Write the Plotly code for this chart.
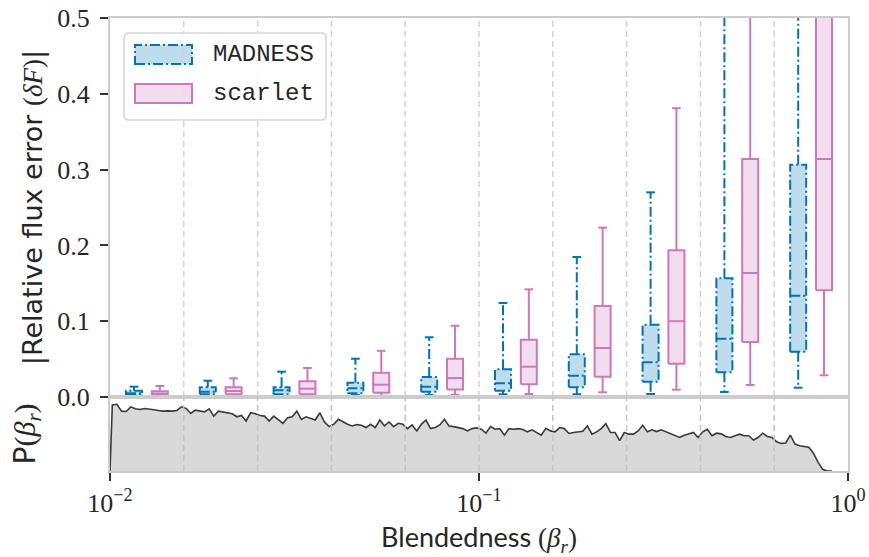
import numpy as np
import plotly.graph_objects as go

# ---------------------------------------------------------------------------
# Data
# ---------------------------------------------------------------------------
# Blendedness bins, evenly spaced in log10(beta_r)
bin_edges_log = np.linspace(-2.0, 0.0, 11)
bin_centers_log = 0.5 * (bin_edges_log[:-1] + bin_edges_log[1:])

# |relative flux error| box statistics per blendedness bin
madness_low = [0.0005, 0.0007, 0.0010, 0.0026, 0.0026, 0.0036, 0.0036, 0.0040, 0.0066, 0.0123]
madness_q1 = [0.0026, 0.0036, 0.0036, 0.0048, 0.0070, 0.0083, 0.0128, 0.0202, 0.0326, 0.0598]
madness_med = [0.0050, 0.0070, 0.0088, 0.0115, 0.0136, 0.0180, 0.0280, 0.0458, 0.0770, 0.1337]
madness_q3 = [0.0083, 0.0128, 0.0128, 0.0189, 0.0264, 0.0365, 0.0563, 0.0954, 0.1566, 0.3065]
madness_high = [0.0136, 0.0215, 0.0334, 0.0505, 0.0788, 0.1240, 0.1847, 0.2700, 0.6200, 0.9500]

scarlet_low = [0.0004, 0.0005, 0.0010, 0.0015, 0.0030, 0.0040, 0.0062, 0.0096, 0.0158, 0.0286]
scarlet_q1 = [0.0026, 0.0036, 0.0036, 0.0057, 0.0100, 0.0168, 0.0268, 0.0440, 0.0726, 0.1407]
scarlet_med = [0.0045, 0.0079, 0.0110, 0.0162, 0.0250, 0.0400, 0.0646, 0.1000, 0.1636, 0.3140]
scarlet_q3 = [0.0075, 0.0128, 0.0207, 0.0320, 0.0505, 0.0756, 0.1200, 0.1935, 0.3140, 0.6200]
scarlet_high = [0.0145, 0.0246, 0.0383, 0.0610, 0.0940, 0.1420, 0.2234, 0.3810, 0.7000, 1.1000]

# Distribution of blendedness, P(beta_r), in fine log bins of width 0.0125 dex
p_beta = [
    0.893, 0.902, 0.809, 0.804, 0.867, 0.840, 0.831, 0.844, 0.840, 0.827,
    0.818, 0.809, 0.813, 0.809, 0.818, 0.867, 0.844, 0.778, 0.822, 0.809,
    0.800, 0.840, 0.742, 0.809, 0.796, 0.778, 0.773, 0.733, 0.751, 0.676,
    0.787, 0.773, 0.751, 0.742, 0.676, 0.742, 0.698, 0.644, 0.720, 0.733,
    0.809, 0.698, 0.733, 0.707, 0.689, 0.787, 0.662, 0.600, 0.631, 0.698,
    0.662, 0.631, 0.609, 0.627, 0.618, 0.587, 0.631, 0.587, 0.689, 0.609,
    0.662, 0.600, 0.644, 0.631, 0.573, 0.622, 0.542, 0.631, 0.689, 0.573,
    0.587, 0.622, 0.698, 0.609, 0.600, 0.582, 0.573, 0.542, 0.573, 0.582,
    0.564, 0.511, 0.600, 0.564, 0.573, 0.484, 0.573, 0.564, 0.573, 0.560,
    0.529, 0.556, 0.520, 0.484, 0.578, 0.542, 0.529, 0.587, 0.573, 0.507,
    0.520, 0.529, 0.538, 0.609, 0.498, 0.529, 0.573, 0.640, 0.520, 0.520,
    0.409, 0.520, 0.498, 0.498, 0.542, 0.618, 0.529, 0.556, 0.533, 0.556,
    0.529, 0.511, 0.476, 0.453, 0.484, 0.502, 0.520, 0.453, 0.529, 0.564,
    0.476, 0.511, 0.502, 0.467, 0.453, 0.476, 0.498, 0.476, 0.476, 0.418,
    0.453, 0.511, 0.467, 0.453, 0.396, 0.373, 0.378, 0.484, 0.364, 0.342,
    0.333, 0.320, 0.240, 0.120, 0.022, 0.000, 0.000,
]
p_bin_width = 0.0125
p_log_centers = -2.0 + p_bin_width * (np.arange(len(p_beta)) + 0.5)

x_tick_vals = [1e-2, 1e-1, 1e0]
x_tick_text = ["10<sup>\u22122</sup>", "10<sup>\u22121</sup>", "10<sup>0</sup>"]
y_tick_vals = [0.0, 0.1, 0.2, 0.3, 0.4, 0.5]
y_tick_text = ["0.0", "0.1", "0.2", "0.3", "0.4", "0.5"]

# ---------------------------------------------------------------------------
# Styling
# ---------------------------------------------------------------------------
BLUE = "#0173B2"
PINK = "#CC78BC"
BLUE_FILL = "rgba(1,115,178,0.25)"
PINK_FILL = "rgba(204,120,188,0.25)"
SPINE = "#cccccc"
GRID = "#d2d2d2"
TEXT = "#262626"
DASHDOT = "10px,3px,2px,3px"
SERIF = "Liberation Serif"
SANS = "Lato"
WIDE_SANS = "DejaVu Sans"
MONO = "Liberation Mono"

W, H = 869, 557
ML, MR, MT, MB = 110, 21, 18, 86
plot_w = W - ML - MR
plot_h = H - MT - MB
bottom_frac = 74 / plot_h

offset_dex = 0.035     # shift of each box from the bin centre
half_box_dex = 0.0217  # half width of a box
half_cap_dex = 0.0118  # half width of a whisker cap


def box_geometry(centers, low, q1, med, q3, high):
    """Outline and whisker paths for a set of boxes on a log x axis."""
    bx, by, wx, wy = [], [], [], []
    for c, lo, a, m, b, hi in zip(centers, low, q1, med, q3, high):
        xl, xr = 10 ** (c - half_box_dex), 10 ** (c + half_box_dex)
        xc = 10 ** c
        cl, cr = 10 ** (c - half_cap_dex), 10 ** (c + half_cap_dex)
        bx += [xl, xr, xr, xl, xl, None]
        by += [a, a, b, b, a, None]
        wx += [xl, xr, None, xc, xc, None, xc, xc, None, cl, cr, None, cl, cr, None]
        wy += [m, m, None, b, hi, None, a, lo, None, hi, hi, None, lo, lo, None]
    return bx, by, wx, wy


fig = go.Figure()

series = [
    ("MADNESS", bin_centers_log - offset_dex, madness_low, madness_q1, madness_med,
     madness_q3, madness_high, BLUE, BLUE_FILL, DASHDOT),
    ("scarlet", bin_centers_log + offset_dex, scarlet_low, scarlet_q1, scarlet_med,
     scarlet_q3, scarlet_high, PINK, PINK_FILL, "solid"),
]
for name, centers, lo, q1, med, q3, hi, col, fill, dash in series:
    bx, by, wx, wy = box_geometry(centers, lo, q1, med, q3, hi)
    fig.add_trace(go.Scatter(
        x=bx, y=by, mode="lines", fill="toself", fillcolor=fill,
        line=dict(color=col, width=2, dash=dash), name=name,
        showlegend=False, hoverinfo="skip", xaxis="x", yaxis="y",
    ))
    fig.add_trace(go.Scatter(
        x=wx, y=wy, mode="lines", line=dict(color=col, width=2, dash=dash),
        showlegend=False, hoverinfo="skip", xaxis="x", yaxis="y",
    ))

# Blendedness distribution in the lower panel
fig.add_trace(go.Scatter(
    x=[10 ** -2.0] + list(10 ** p_log_centers), y=[0.0] + p_beta,
    mode="lines", fill="tozeroy", fillcolor="#d9d9d9",
    line=dict(color="#3a3a3a", width=1.6), showlegend=False,
    hoverinfo="skip", xaxis="x2", yaxis="y2",
))

# Dashed bin boundaries in both panels
shapes = []
for e in bin_edges_log[1:-1]:
    shapes.append(dict(type="line", xref="x", yref="y domain", x0=10 ** e, x1=10 ** e,
                       y0=0, y1=1, layer="below",
                       line=dict(color=GRID, width=1.5, dash="6px,4px")))
    shapes.append(dict(type="line", xref="x2", yref="y2 domain", x0=10 ** e, x1=10 ** e,
                       y0=0, y1=1, layer="above",
                       line=dict(color="#c4c4c4", width=1.5, dash="6px,4px")))


# Legend drawn in paper coordinates (pixel layout converted to paper units)
def px_x(p):
    return (p - ML) / plot_w


def px_y(p):
    return (H - MB - p) / plot_h


def rounded_rect(x0p, y0p, x1p, y1p, r=5):
    x0, x1 = px_x(x0p), px_x(x1p)
    yt, yb = px_y(y0p), px_y(y1p)
    rx, ry = r / plot_w, r / plot_h
    return (f"M{x0 + rx},{yb} L{x1 - rx},{yb} Q{x1},{yb} {x1},{yb + ry} "
            f"L{x1},{yt - ry} Q{x1},{yt} {x1 - rx},{yt} L{x0 + rx},{yt} "
            f"Q{x0},{yt} {x0},{yt - ry} L{x0},{yb + ry} Q{x0},{yb} {x0 + rx},{yb} Z")


shapes.append(dict(type="path", xref="paper", yref="paper", path=rounded_rect(124, 33, 326, 120),
                   fillcolor="rgba(255,255,255,0.85)", line=dict(color="#d6d6d6", width=1.5),
                   layer="above"))
annotations = []
legend_rows = [("MADNESS", 45, BLUE, BLUE_FILL, DASHDOT), ("scarlet", 84, PINK, PINK_FILL, "solid")]
for label, top, col, fill, dash in legend_rows:
    shapes.append(dict(type="rect", xref="paper", yref="paper",
                       x0=px_x(135), x1=px_x(192), y0=px_y(top + 19), y1=px_y(top),
                       fillcolor=fill, line=dict(color=col, width=2, dash=dash), layer="above"))
    annotations.append(dict(text=label, xref="paper", yref="paper", x=px_x(211),
                            y=px_y(top + 9.5), xanchor="left", yanchor="middle",
                            showarrow=False, font=dict(family=MONO, size=24, color=TEXT)))

axis_common = dict(showline=True, mirror=True, linecolor=SPINE, linewidth=2,
                   showgrid=False, zeroline=False, automargin=False)

fig.update_layout(
    width=W, height=H,
    margin=dict(l=ML, r=MR, t=MT, b=MB, autoexpand=False),
    paper_bgcolor="white", plot_bgcolor="white",
    showlegend=False,
    shapes=shapes, annotations=annotations,
    xaxis=dict(type="log", range=[-2, 0], domain=[0, 1], anchor="y",
               showticklabels=False, ticks="", **axis_common),
    yaxis=dict(range=[0, 0.5], domain=[bottom_frac, 1], anchor="x",
               tickvals=y_tick_vals, ticktext=y_tick_text, ticks="outside",
               ticklen=8, tickwidth=1.5, tickcolor="#333333", ticklabelstandoff=5,
               tickfont=dict(family=SERIF, size=26, color=TEXT),
               title=dict(text="|Relative flux error <span style=\"font-family:Liberation Serif\">(<i>\u03b4F</i>)</span>|",
                          font=dict(family=WIDE_SANS, size=27, color=TEXT), standoff=7),
               **axis_common),
    xaxis2=dict(type="log", range=[-2, 0], domain=[0, 1], anchor="y2", matches="x",
                tickvals=x_tick_vals, ticktext=x_tick_text, ticks="outside",
                ticklen=8, tickwidth=1.5, tickcolor="#333333",
                tickfont=dict(family=SERIF, size=26, color=TEXT),
                title=dict(text="Blendedness <span style=\"font-family:Liberation Serif\">(<i>\u03b2</i><sub><i>r</i></sub>)</span>",
                           font=dict(family=SANS, size=27, color=TEXT), standoff=12),
                **axis_common),
    yaxis2=dict(range=[0, 1.0], domain=[0, bottom_frac], anchor="x2",
                showticklabels=False, ticks="",
                title=dict(text="P<span style=\"font-family:Liberation Serif\">(<i>\u03b2</i><sub><i>r</i></sub>)</span>",
                           font=dict(family=SANS, size=30, color=TEXT), standoff=64),
                **axis_common),
)

fig.write_html("out.html")
